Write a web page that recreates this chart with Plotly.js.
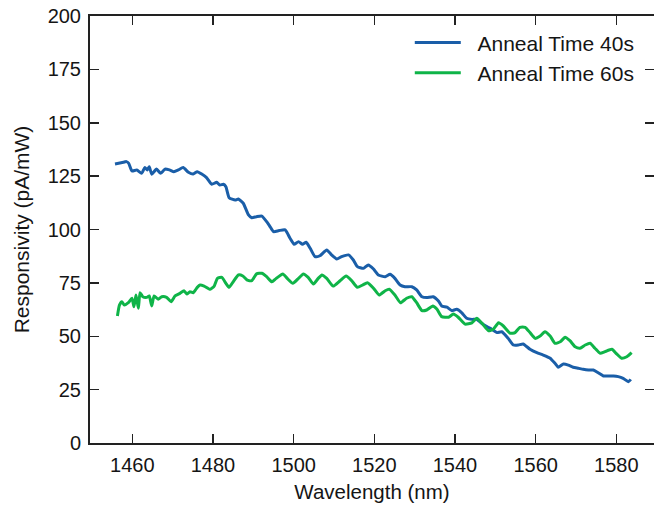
<!DOCTYPE html>
<html>
<head>
<meta charset="utf-8">
<script src="https://cdn.plot.ly/plotly-3.0.1.min.js"></script>
<style>html,body{margin:0;padding:0;background:#fff;}#chart{width:654px;height:508px;}</style>
</head>
<body>
<div id="chart"></div>
<script>
var seriesNames = ["Anneal Time 40s", "Anneal Time 60s"];
var xTickVals = [1460, 1480, 1500, 1520, 1540, 1560, 1580];
var yTickVals = [0, 25, 50, 75, 100, 125, 150, 175, 200];

var wl40 = [1455.7,1457.8,1458.5,1459.1,1459.9,1461.1,1462.3,1463.1,1463.7,1464.2,1464.8,1466.0,1467.0,1468.1,1469.2,1470.3,1471.4,1472.6,1473.9,1475.1,1476.1,1477.2,1478.4,1479.7,1480.9,1481.7,1482.6,1483.2,1484.0,1485.5,1486.3,1487.5,1488.8,1489.6,1490.8,1492.1,1493.3,1494.1,1495.0,1496.4,1497.9,1499.1,1500.1,1501.2,1502.2,1503.1,1504.1,1505.3,1506.5,1508.2,1509.4,1510.7,1511.9,1513.6,1514.8,1515.8,1517.3,1518.5,1519.8,1521.0,1522.7,1523.9,1525.1,1526.4,1527.6,1529.3,1530.5,1531.8,1533.0,1534.6,1535.9,1536.7,1538.0,1539.2,1540.4,1541.7,1542.9,1544.2,1545.4,1546.6,1547.9,1549.1,1550.4,1551.6,1553.2,1554.5,1555.7,1556.9,1558.6,1560.3,1561.9,1563.6,1564.8,1565.6,1566.9,1568.1,1569.3,1570.6,1571.8,1573.1,1574.3,1575.5,1576.8,1578.0,1579.3,1580.5,1581.7,1583.0,1583.6];
var resp40 = [130.7,131.5,131.8,131.0,127.4,127.9,126.3,129.0,127.9,129.4,125.9,128.3,126.3,128.3,127.9,127.1,127.9,129.0,126.8,126.0,127.1,126.0,124.3,121.2,122.1,120.8,121.2,120.0,114.9,113.8,114.3,112.3,106.8,105.5,106.0,106.3,103.7,101.5,99.0,99.5,99.8,95.9,93.1,94.3,93.1,94.0,91.2,87.3,87.7,90.4,88.1,86.2,87.3,88.1,85.7,82.6,81.8,83.4,81.5,78.7,77.9,79.0,77.1,74.0,73.2,73.2,71.7,68.5,68.1,68.5,66.5,64.2,63.6,62.0,62.6,61.0,58.4,57.9,57.9,56.1,54.5,53.3,51.7,52.1,49.0,45.9,45.9,46.4,43.9,42.3,41.2,39.7,37.3,35.5,37.0,36.5,35.5,35.0,34.5,34.2,34.2,32.9,31.4,31.4,31.4,31.1,30.3,28.7,29.8];

var wl60 = [1456.3,1456.8,1457.4,1458.0,1459.0,1459.9,1460.4,1460.9,1461.5,1461.9,1462.6,1463.6,1464.2,1464.8,1465.4,1466.4,1467.3,1468.5,1469.6,1470.6,1471.8,1472.8,1473.5,1474.3,1475.1,1476.1,1476.8,1477.8,1479.3,1480.3,1481.1,1482.2,1483.2,1484.0,1485.0,1486.3,1487.4,1488.5,1489.6,1490.8,1492.1,1493.3,1494.6,1495.6,1497.3,1498.4,1499.8,1501.2,1502.4,1503.6,1504.9,1506.1,1507.0,1508.2,1509.8,1511.5,1513.0,1514.4,1515.8,1517.1,1518.3,1519.8,1521.2,1522.7,1523.7,1525.1,1526.5,1528.0,1529.3,1530.5,1531.8,1533.0,1534.5,1535.5,1536.7,1538.4,1539.6,1540.8,1542.5,1544.2,1545.4,1546.6,1548.3,1549.5,1550.8,1552.0,1553.7,1554.9,1556.1,1557.4,1558.6,1559.9,1561.1,1562.3,1563.6,1564.8,1566.1,1567.3,1568.5,1569.8,1571.0,1572.3,1573.5,1574.7,1576.0,1577.2,1578.9,1580.1,1581.3,1582.6,1583.8];
var resp60 = [59.5,64.6,66.2,64.6,65.7,67.8,63.8,69.3,63.1,70.4,68.5,68.2,68.9,64.2,68.9,67.3,68.5,68.2,66.2,68.9,70.1,71.3,69.8,70.9,70.4,72.9,74.0,73.5,72.0,73.5,77.1,77.6,74.8,72.9,75.5,78.7,78.2,76.3,76.0,79.2,79.5,77.9,75.5,77.0,79.2,77.1,74.8,77.1,79.2,77.6,74.5,77.1,78.7,77.1,73.5,76.0,78.2,76.0,72.9,74.0,75.1,72.5,69.3,71.3,72.0,69.3,65.7,67.8,68.5,65.7,62.0,62.3,64.2,62.8,59.2,58.9,60.4,58.9,55.7,56.3,58.4,56.3,52.6,53.3,56.3,54.8,51.4,51.7,54.2,54.2,51.7,49.0,50.1,52.1,50.1,46.7,47.4,49.5,47.9,45.1,44.4,45.9,46.7,44.4,42.0,42.8,43.9,41.7,39.7,40.4,42.3];

var FONT = "Liberation Sans, Arial, Helvetica, sans-serif";
var INK = "#151515";

var traces = [
  {x: wl40, y: resp40, name: "\u00a0\u00a0" + seriesNames[0], type: "scatter", mode: "lines",
   line: {color: "#1a5ea8", width: 3, shape: "spline", smoothing: 0.5}, legendgroup: "a"},
  {x: wl60, y: resp60, name: "\u00a0\u00a0" + seriesNames[1], type: "scatter", mode: "lines",
   line: {color: "#0fb448", width: 3, shape: "spline", smoothing: 0.5}, legendgroup: "b"}
];

var axisCommon = {
  showgrid: false, zeroline: false, showline: true, linecolor: "#222", linewidth: 2,
  mirror: "ticks", ticks: "inside", ticklen: 9, tickwidth: 1.5, tickcolor: "#222",
  tickfont: {family: FONT, size: 20, color: INK}
};

var layout = {
  width: 654, height: 508,
  margin: {l: 90, r: 0, t: 16, b: 65, pad: 0},
  paper_bgcolor: "#fff", plot_bgcolor: "#fff",
  font: {family: FONT, size: 20, color: INK},
  xaxis: Object.assign({}, axisCommon, {
    range: [1449.5, 1589.35], tickvals: xTickVals, ticktext: xTickVals.map(String),
    ticklabelstandoff: 3,
    title: {text: "Wavelength (nm)", font: {family: FONT, size: 20.5, color: INK}, standoff: 10}
  }),
  yaxis: Object.assign({}, axisCommon, {
    range: [0, 200], tickvals: yTickVals, ticktext: yTickVals.map(String),
    ticklabelstandoff: 3,
    title: {text: "Responsivity (pA/mW)", font: {family: FONT, size: 21, color: INK}, standoff: 12}
  }),
  legend: {
    x: 0.567, y: 0.985, xanchor: "left", yanchor: "top",
    bgcolor: "rgba(0,0,0,0)", borderwidth: 0,
    font: {family: FONT, size: 21, color: INK},
    itemwidth: 46, tracegroupgap: 0
  },
  showlegend: true
};

Plotly.newPlot("chart", traces, layout, {displayModeBar: false, staticPlot: true});
</script>
</body>
</html>
